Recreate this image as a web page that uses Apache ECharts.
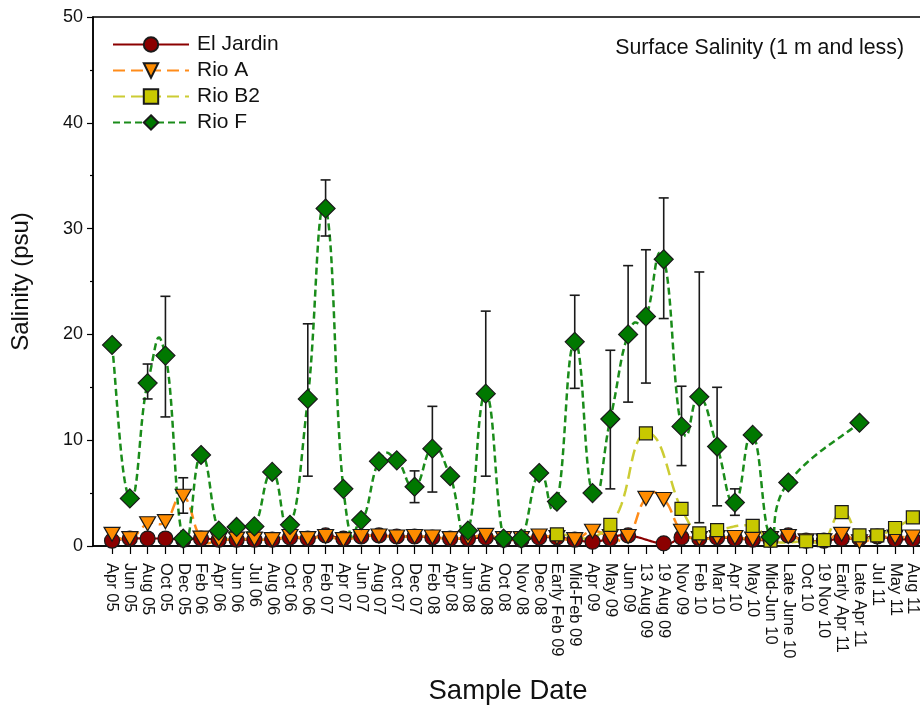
<!DOCTYPE html>
<html>
<head>
<meta charset="utf-8">
<script src="https://cdn.jsdelivr.net/npm/echarts@6/dist/echarts.min.js"></script>
<style>html,body{margin:0;padding:0;background:#fff}#c{width:920px;height:710px}</style>
</head>
<body>
<div id="c"></div>
<script>
var categories = ['Apr 05','Jun 05','Aug 05','Oct 05','Dec 05','Feb 06','Apr 06','Jun 06','Jul 06','Aug 06','Oct 06','Dec 06','Feb 07','Apr 07','Jun 07','Aug 07','Oct 07','Dec 07','Feb 08','Apr 08','Jun 08','Aug 08','Oct 08','Nov 08','Dec 08','Early Feb 09','Mid-Feb 09','Apr 09','May 09','Jun 09','13 Aug 09','19 Aug 09','Nov 09','Feb 10','Mar 10','Apr 10','May 10','Mid-Jun 10','Late June 10','Oct 10','19 Nov 10','Early Apr 11','Late Apr 11','Jul 11','May 11','Aug 11'];

var elJardin = [0.5,0.7,0.7,0.7,0.6,0.7,0.6,0.6,0.6,0.6,0.8,0.7,1.0,0.7,0.9,1.0,0.9,0.9,0.8,0.7,0.7,0.8,0.6,0.6,0.8,0.8,0.6,0.4,0.7,1.0,null,0.25,0.8,0.7,0.8,0.7,0.6,0.6,1.0,0.5,0.5,0.7,0.7,0.9,0.65,0.65];

var rioA = [1.1,0.7,2.1,2.3,4.7,0.75,0.6,0.65,0.65,0.6,0.9,0.7,0.9,0.6,0.9,0.95,0.85,0.9,0.85,0.7,0.8,1.0,0.7,0.7,0.95,0.8,0.6,1.4,0.9,0.9,4.5,4.4,1.4,0.7,0.8,0.8,0.65,0.7,0.9,0.5,0.5,1.1,0.4,0.8,0.85,0.85];

var rioB2 = [null,null,null,null,null,null,null,null,null,null,null,null,null,null,null,null,null,null,null,null,null,null,null,null,null,1.1,null,null,2.0,null,10.65,null,3.5,1.2,1.5,null,1.9,0.5,null,0.45,0.55,3.2,1.0,1.0,1.7,2.7];

var rioF = [19.0,4.5,15.4,18.0,0.7,8.6,1.45,1.8,1.85,7.0,2.0,13.9,31.9,5.4,2.45,8.0,8.1,5.6,9.2,6.6,1.45,14.4,0.7,0.7,6.9,4.2,19.3,5.0,12.0,20.0,21.7,27.1,11.3,14.1,9.4,4.1,10.5,0.85,6.0,null,null,null,11.65,null,null,null];

// error bars: [category index, low, high]
var rioFErrors = [[2,13.9,17.2],[3,12.2,23.6],[11,6.6,21.0],[12,29.3,34.6],[17,4.1,7.1],[18,5.1,13.2],[21,6.6,22.2],[26,14.9,23.7],[28,5.4,18.5],[29,13.6,26.5],[30,15.4,28.0],[31,21.5,32.9],[32,7.6,15.1],[33,2.2,25.9],[34,3.8,15.0],[35,2.9,5.4]];
var rioAErrors = [[4,3.1,6.45]];

function pairs(arr){ return arr.map(function(v,i){ return [i, v]; }); }
var idx = categories.map(function(_,i){ return i; });

// cardinal (Bezier) spline through the non-null points, sampled in data space
function splinePoints(arr, steps){
  var P = [];
  arr.forEach(function(v,i){ if (v !== null && v !== undefined) P.push([i, v]); });
  var n = P.length, k = 0.25, out = [];
  if (n < 2) return P;
  for (var s=0;s<n-1;s++){
    var p0 = P[Math.max(0,s-1)], p1 = P[s], p2 = P[s+1], p3 = P[Math.min(n-1,s+2)];
    var c1 = [p1[0]+k*(p2[0]-p0[0]), p1[1]+k*(p2[1]-p0[1])];
    var c2 = [p2[0]-k*(p3[0]-p1[0]), p2[1]-k*(p3[1]-p1[1])];
    for (var t=0;t<steps;t++){
      var u = t/steps, a = (1-u)*(1-u)*(1-u), b = 3*(1-u)*(1-u)*u, c = 3*(1-u)*u*u, d = u*u*u;
      out.push([a*p1[0]+b*c1[0]+c*c2[0]+d*p2[0], a*p1[1]+b*c1[1]+c*c2[1]+d*p2[1]]);
    }
  }
  out.push(P[n-1]);
  return out;
}

var chart = echarts.init(document.getElementById('c'), null, {renderer:'canvas'});
var FONT = 'Liberation Sans, Arial, sans-serif';

function errRender(params, api){
  var x = api.value(0), lo = api.value(1), hi = api.value(2);
  var pLo = api.coord([x, lo]), pHi = api.coord([x, hi]);
  var cw = 5;
  var st = {stroke:'#1a1a1a', lineWidth:1.6};
  return {type:'group', children:[
    {type:'line', shape:{x1:pLo[0],y1:pLo[1],x2:pHi[0],y2:pHi[1]}, style:st},
    {type:'line', shape:{x1:pLo[0]-cw,y1:pLo[1],x2:pLo[0]+cw,y2:pLo[1]}, style:st},
    {type:'line', shape:{x1:pHi[0]-cw,y1:pHi[1],x2:pHi[0]+cw,y2:pHi[1]}, style:st}
  ]};
}

function splineSeries(arr, color, width, dash){
  var pts = splinePoints(arr, 24);
  return {type:'custom', silent:true, z:2, data:[[0,0]], encode:{x:0,y:1},
    renderItem:function(params, api){
      var cs = params.coordSys;
      var px = pts.map(function(p){ return api.coord(p); });
      return {type:'group',
        clipPath:{type:'rect', shape:{x:cs.x, y:cs.y, width:cs.width, height:cs.height}},
        children:[{type:'polyline', shape:{points:px},
          style:{stroke:color, lineWidth:width, fill:null, lineDash:dash}}]};
    }};
}

var option = {
  animation:false,
  backgroundColor:'#fff',
  title:{text:'Surface Salinity (1 m and less)', right:11, top:33,
    textStyle:{fontFamily:FONT, fontSize:21.3, fontWeight:'normal', color:'#111'}},
  legend:{
    orient:'vertical', left:107, top:29, itemWidth:76, itemHeight:18, itemGap:5,
    lineStyle:{opacity:1},
    textStyle:{fontFamily:FONT, fontSize:21, color:'#111', padding:[0,0,0,3], lineHeight:18},
    data:['El Jardin','Rio A','Rio B2','Rio F']
  },
  grid:{left:93, right:-3, top:17, bottom:164, show:true, borderColor:'#000', borderWidth:1.5, outerBoundsMode:'none', containLabel:false},
  xAxis:{
    type:'value', min:-1.07, max:45.57,
    name:'Sample Date', nameLocation:'middle', nameGap:131,
    nameTextStyle:{fontFamily:FONT, fontSize:27.5, color:'#111'},
    axisLine:{show:true, onZero:false, lineStyle:{color:'#000', width:1.5}},
    axisTick:{show:true, customValues:idx, length:8, lineStyle:{color:'#000', width:1.2}},
    axisLabel:{customValues:idx, rotate:-90, margin:17, fontFamily:FONT, fontSize:16.5, color:'#111',
      formatter:function(v){ return categories[Math.round(v)] || ''; }},
    splitLine:{show:false}
  },
  yAxis:{
    type:'value', min:0, max:50, interval:10,
    name:'Salinity (psu)', nameLocation:'middle', nameGap:60,
    nameTextStyle:{fontFamily:FONT, fontSize:24, color:'#111'},
    axisLine:{show:true, onZero:false, lineStyle:{color:'#000', width:1.5}},
    axisTick:{show:true, length:6, lineStyle:{color:'#000', width:1.2}},
    minorTick:{show:true, splitNumber:2, length:3, lineStyle:{color:'#000', width:1.2}},
    axisLabel:{margin:10, fontFamily:FONT, fontSize:18, color:'#111'},
    splitLine:{show:false}
  },
  series:[
    splineSeries(elJardin, '#8b0000', 2.2, null),
    splineSeries(rioA, '#ff8c1a', 2.5, [12,6]),
    splineSeries(rioB2, '#cccc33', 2.5, [12,6]),
    splineSeries(rioF, '#1a8c1a', 2.5, [7,4]),
    {type:'custom', name:'errF', renderItem:errRender, data:rioFErrors, z:2, silent:true, encode:{x:0,y:[1,2]}},
    {type:'custom', name:'errA', renderItem:errRender, data:rioAErrors, z:2, silent:true, encode:{x:0,y:[1,2]}},
    {name:'El Jardin', type:'line', data:pairs(elJardin), connectNulls:true, z:3,
      symbol:'circle', symbolSize:15,
      lineStyle:{color:'#8b0000', width:2.2, type:'solid', opacity:0},
      itemStyle:{color:'#8b0000', borderColor:'#1a1a1a', borderWidth:1.2}},
    {name:'Rio A', type:'line', data:pairs(rioA), connectNulls:true, z:4,
      symbol:'triangle', symbolRotate:180, symbolSize:[16,14],
      lineStyle:{color:'#ff8c1a', width:2.5, type:[12,6], opacity:0},
      itemStyle:{color:'#ff8c00', borderColor:'#1a1a1a', borderWidth:1.2}},
    {name:'Rio B2', type:'line', data:pairs(rioB2), connectNulls:true, z:5,
      symbol:'rect', symbolSize:13,
      lineStyle:{color:'#cccc33', width:2.5, type:[12,6], opacity:0},
      itemStyle:{color:'#c8c800', borderColor:'#1a1a1a', borderWidth:1.2}},
    {name:'Rio F', type:'line', data:pairs(rioF), connectNulls:true, z:6,
      symbol:'diamond', symbolSize:19,
      lineStyle:{color:'#1a8c1a', width:2.5, type:[7,4], opacity:0},
      itemStyle:{color:'#007800', borderColor:'#1a1a1a', borderWidth:1.2}}
  ]
};
chart.setOption(option);
</script>
</body>
</html>
